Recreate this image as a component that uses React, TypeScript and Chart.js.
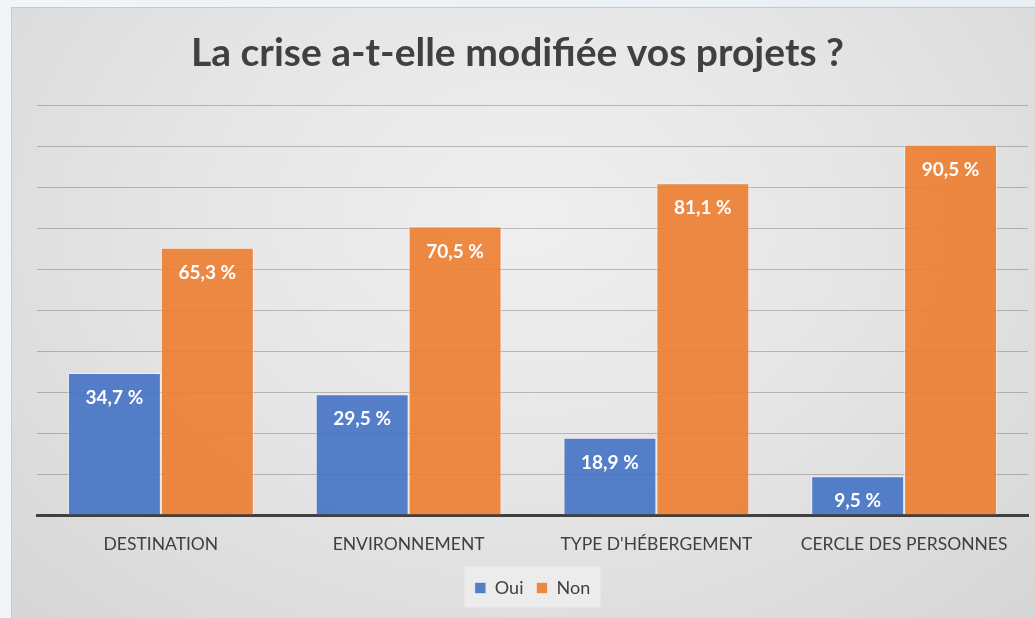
import React, { useEffect, useRef } from "react";
import { Chart, registerables } from "chart.js";

Chart.register(...registerables);

const categories = ["DESTINATION", "ENVIRONNEMENT", "TYPE D'HÉBERGEMENT", "CERCLE DES PERSONNES"];
const ouiValues = [34.7, 29.5, 18.9, 9.5];
const nonValues = [65.3, 70.5, 81.1, 90.5];
const seriesNames = ["Oui", "Non"];
const titleText = "La crise a-t-elle modifiée vos projets ?";

const FONT = "Lato, 'Open Sans', sans-serif";
const TITLE_SIZE = 39;

const valueLabels = {
  id: "valueLabels",
  afterDatasetsDraw(chart: any) {
    const ctx = chart.ctx;
    ctx.save();
    ctx.font = `bold 19px ${FONT}`;
    ctx.fillStyle = "#ffffff";
    ctx.textAlign = "center";
    ctx.textBaseline = "middle";
    chart.data.datasets.forEach((ds: any, di: number) => {
      const meta = chart.getDatasetMeta(di);
      meta.data.forEach((el: any, i: number) => {
        const v = ds.data[i] as number;
        const txt = v.toFixed(1).replace(".", ",") + " %";
        ctx.fillText(txt, el.x, el.y + 25);
      });
    });
    ctx.restore();
  },
};

const legendBg = {
  id: "legendBg",
  beforeDraw(chart: any) {
    const lg = chart.legend;
    if (!lg || !lg.legendItems) return;
    const ctx = chart.ctx;
    const cx = (lg.left + lg.right) / 2;
    const cy = (lg.top + lg.bottom) / 2;
    ctx.save();
    ctx.fillStyle = "rgba(245,245,245,0.55)";
    ctx.fillRect(cx - 68, cy - 20, 136, 41);
    ctx.restore();
  },
};

const shiftedTitle = {
  id: "shiftedTitle",
  afterDraw(chart: any) {
    const tb = chart.titleBlock;
    if (!tb) return;
    const ctx = chart.ctx;
    ctx.save();
    ctx.font = `bold ${TITLE_SIZE}px ${FONT}`;
    ctx.fillStyle = "#404040";
    ctx.textAlign = "center";
    ctx.textBaseline = "middle";
    const cx = (tb.left + tb.right) / 2 - 15;
    const cy = tb.top + 22 + (TITLE_SIZE * 1.2) / 2;
    ctx.fillText(chart.options.plugins.title.text, cx, cy);
    ctx.restore();
  },
};

export default function App() {
  const ref = useRef<HTMLCanvasElement>(null);
  useEffect(() => {
    document.body.style.margin = "0";
    const chart = new Chart(ref.current!, {
      type: "bar",
      data: {
        labels: categories,
        datasets: [
          {
            label: seriesNames[0],
            data: ouiValues,
            backgroundColor: "rgba(68,114,196,0.9)",
            borderColor: "rgba(255,255,255,0.45)",
            borderWidth: 1,
          },
          {
            label: seriesNames[1],
            data: nonValues,
            backgroundColor: "rgba(237,125,49,0.9)",
            borderColor: "rgba(255,255,255,0.45)",
            borderWidth: 1,
          },
        ],
      },
      options: {
        animation: false,
        responsive: true,
        maintainAspectRatio: false,
        layout: { padding: { left: 25, right: 7, top: 0, bottom: 11 } },
        datasets: { bar: { categoryPercentage: 0.75, barPercentage: 1 } } as any,
        scales: {
          x: {
            grid: { display: false },
            border: { display: true, color: "#404040", width: 3 },
            ticks: { color: "#404040", font: { family: FONT, size: 17.5 }, padding: 11 },
          },
          y: {
            min: 0,
            max: 100,
            ticks: { display: false, stepSize: 10 },
            border: { display: false },
            grid: { color: "rgba(0,0,0,0.22)", drawTicks: false, lineWidth: 1 },
          },
        },
        plugins: {
          title: {
            display: true,
            text: titleText,
            color: "rgba(0,0,0,0)",
            font: { family: FONT, size: TITLE_SIZE, weight: "bold" },
            padding: { top: 22, bottom: 29 },
          },
          legend: {
            position: "bottom",
            labels: {
              color: "#404040",
              font: { family: FONT, size: 18 },
              boxWidth: 11,
              boxHeight: 11,
              padding: 13,
            },
          },
          tooltip: { enabled: false },
        },
      },
      plugins: [valueLabels, legendBg, shiftedTitle],
    });
    return () => chart.destroy();
  }, []);

  return (
    <div
      style={{
        position: "absolute",
        left: 0,
        top: 0,
        width: 1035,
        height: 618,
        background: "linear-gradient(90deg, #f2f5f7 0%, #e9eef2 100%)",
        overflow: "hidden",
      }}
    >
      <div
        style={{
          position: "absolute",
          left: 11,
          top: 7,
          width: 1024,
          height: 611,
          borderTop: "1px solid #c8c8c8",
          borderLeft: "1px solid #c8c8c8",
          boxSizing: "border-box",
          background:
            "radial-gradient(ellipse at 50% 35%, #efefef 0%, #e6e6e6 45%, #d6d6d6 100%)",
        }}
      >
        <canvas ref={ref} />
      </div>
    </div>
  );
}
